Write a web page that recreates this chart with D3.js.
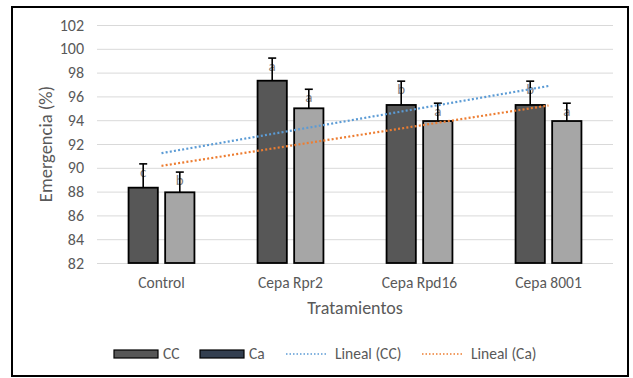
<!DOCTYPE html>
<html lang="es">
<head>
<meta charset="utf-8">
<style type="text/css">
body { margin: 0; background: #fff; }
svg { display: block; font-family: Carlito, Lato, "Open Sans", sans-serif; }
.grid line { stroke: #d9d9d9; stroke-width: 1px; }
.tick text { fill: #595959; }
.bar { stroke: #000; stroke-width: 1.8px; }
.err { stroke: #000; stroke-width: 1.6px; }
.trend { fill: none; stroke-width: 2.2px; stroke-dasharray: 2 2.2; }
</style>
</head>
<body>
<svg width="633" height="378"></svg>

<script src="https://d3js.org/d3.v7.min.js"></script>
<script type="text/javascript">
    var categories = ["Control", "Cepa Rpr2", "Cepa Rpd16", "Cepa 8001"];
    var seriesNames = ["CC", "Ca"];
    var valuesCC = [88.33, 97.32, 95.28, 95.28];
    var valuesCa = [87.94, 95.0, 93.93, 93.93];
    var errorsCC = [2.0, 1.9, 2.0, 2.0];
    var errorsCa = [1.7, 1.6, 1.5, 1.5];
    var lettersCC = ["c", "a", "b", "b"];
    var lettersCa = ["b", "a", "a", "a"];
    var yTicks = [82, 84, 86, 88, 90, 92, 94, 96, 98, 100, 102];

    var barColors = { CC: "#575757", Ca: "#a6a6a6" };
    var legendColors = { CC: "#575757", Ca: "#333f50" };
    var trendColors = { CC: "#5b9bd5", Ca: "#ed7d31" };

    var svg = d3.select("svg"),
        pLeft = 97, pRight = 613, pTop = 25, pBottom = 263;

    // outer frame
    svg.append("rect")
        .attr("x", 12).attr("y", 7)
        .attr("width", 616).attr("height", 369)
        .attr("fill", "#fff")
        .attr("stroke", "#000")
        .attr("stroke-width", 2);

    var x0 = d3.scaleBand().domain(categories).range([pLeft, pRight]);
    var y = d3.scaleLinear().domain([82, 102]).range([pBottom, pTop]);

    var barW = x0.bandwidth() * 0.227,
        gap = barW * 0.25;
    function barX(cat, s) {
        var c = x0(cat) + x0.bandwidth() / 2;
        return s === 0 ? c - gap / 2 - barW : c + gap / 2;
    }

    // gridlines
    svg.append("g")
        .attr("class", "grid")
        .attr("transform", "translate(" + pLeft + ",0)")
        .call(d3.axisLeft(y).tickValues(yTicks).tickSize(-(pRight - pLeft)).tickFormat(""))
        .call(function (g) { g.select(".domain").remove(); });

    // y tick labels
    svg.append("g")
        .attr("transform", "translate(" + (pLeft - 13) + ",0)")
        .call(d3.axisLeft(y).tickValues(yTicks).tickSize(0).tickPadding(0))
        .call(function (g) {
            g.attr("font-family", null).attr("font-size", 16);
            g.select(".domain").remove();
        });

    // x labels
    svg.append("g")
        .attr("transform", "translate(0," + (pBottom + 13) + ")")
        .call(d3.axisBottom(x0).tickSize(0).tickPadding(0))
        .call(function (g) {
            g.attr("font-family", null).attr("font-size", 15.5);
            g.select(".domain").remove();
            g.selectAll("text").attr("dy", "0.75em");
        });

    var series = [
        { name: "CC", values: valuesCC, errors: errorsCC, letters: lettersCC },
        { name: "Ca", values: valuesCa, errors: errorsCa, letters: lettersCa }
    ];

    series.forEach(function (s, si) {
        var g = svg.append("g");
        categories.forEach(function (cat, i) {
            var bx = barX(cat, si), cx = bx + barW / 2;
            g.append("rect")
                .attr("class", "bar")
                .attr("x", bx)
                .attr("y", y(s.values[i]))
                .attr("width", barW)
                .attr("height", y(82) - y(s.values[i]))
                .attr("fill", barColors[s.name]);
            var capY = y(s.values[i] + s.errors[i]);
            g.append("text")
                .attr("x", cx)
                .attr("y", capY + 13)
                .attr("text-anchor", "middle")
                .attr("font-size", 15)
                .attr("fill", "#7f7f7f")
                .text(s.letters[i]);
            g.append("line").attr("class", "err")
                .attr("x1", cx).attr("x2", cx)
                .attr("y1", y(s.values[i])).attr("y2", capY);
            g.append("line").attr("class", "err")
                .attr("x1", cx - 4).attr("x2", cx + 4)
                .attr("y1", capY).attr("y2", capY);
        });
    });

    // linear trendlines (least squares over category index)
    series.forEach(function (s) {
        var n = s.values.length,
            xs = d3.range(1, n + 1),
            mx = d3.mean(xs), my = d3.mean(s.values),
            slope = d3.sum(xs, function (xv, i) { return (xv - mx) * (s.values[i] - my); }) /
                    d3.sum(xs, function (xv) { return (xv - mx) * (xv - mx); }),
            icpt = my - slope * mx;
        var pts = [1, n].map(function (xv) {
            return [x0(categories[xv - 1]) + x0.bandwidth() / 2, y(icpt + slope * xv)];
        });
        svg.append("path")
            .attr("class", "trend")
            .attr("stroke", trendColors[s.name])
            .attr("d", d3.line()(pts));
    });

    // axis titles
    svg.append("text")
        .attr("x", (pLeft + pRight) / 2)
        .attr("y", 314)
        .attr("text-anchor", "middle")
        .attr("font-size", 18)
        .attr("fill", "#595959")
        .text("Tratamientos");

    svg.append("text")
        .attr("transform", "translate(52," + ((pTop + pBottom) / 2) + ") rotate(-90)")
        .attr("text-anchor", "middle")
        .attr("font-size", 18.5)
        .attr("fill", "#595959")
        .text("Emergencia (%)");

    // legend
    var legend = svg.append("g").attr("transform", "translate(0,354)");
    var items = [
        { type: "box", name: "CC", x: 114, color: legendColors.CC },
        { type: "box", name: "Ca", x: 200, color: legendColors.Ca },
        { type: "line", name: "Lineal (CC)", x: 286, color: trendColors.CC },
        { type: "line", name: "Lineal (Ca)", x: 422, color: trendColors.Ca }
    ];
    items.forEach(function (it) {
        if (it.type === "box") {
            legend.append("rect")
                .attr("x", it.x).attr("y", -4)
                .attr("width", 44).attr("height", 8)
                .attr("fill", it.color)
                .attr("stroke", "#000").attr("stroke-width", 1.2);
        } else {
            legend.append("line")
                .attr("x1", it.x).attr("x2", it.x + 42)
                .attr("y1", 0).attr("y2", 0)
                .attr("stroke", it.color)
                .attr("stroke-width", 1.5)
                .attr("stroke-dasharray", "1.5 2");
        }
        legend.append("text")
            .attr("x", it.x + 49)
            .attr("y", 0)
            .attr("dy", "0.35em")
            .attr("font-size", 15.5)
            .attr("fill", "#595959")
            .text(it.name);
    });
</script>
</body>
</html>
